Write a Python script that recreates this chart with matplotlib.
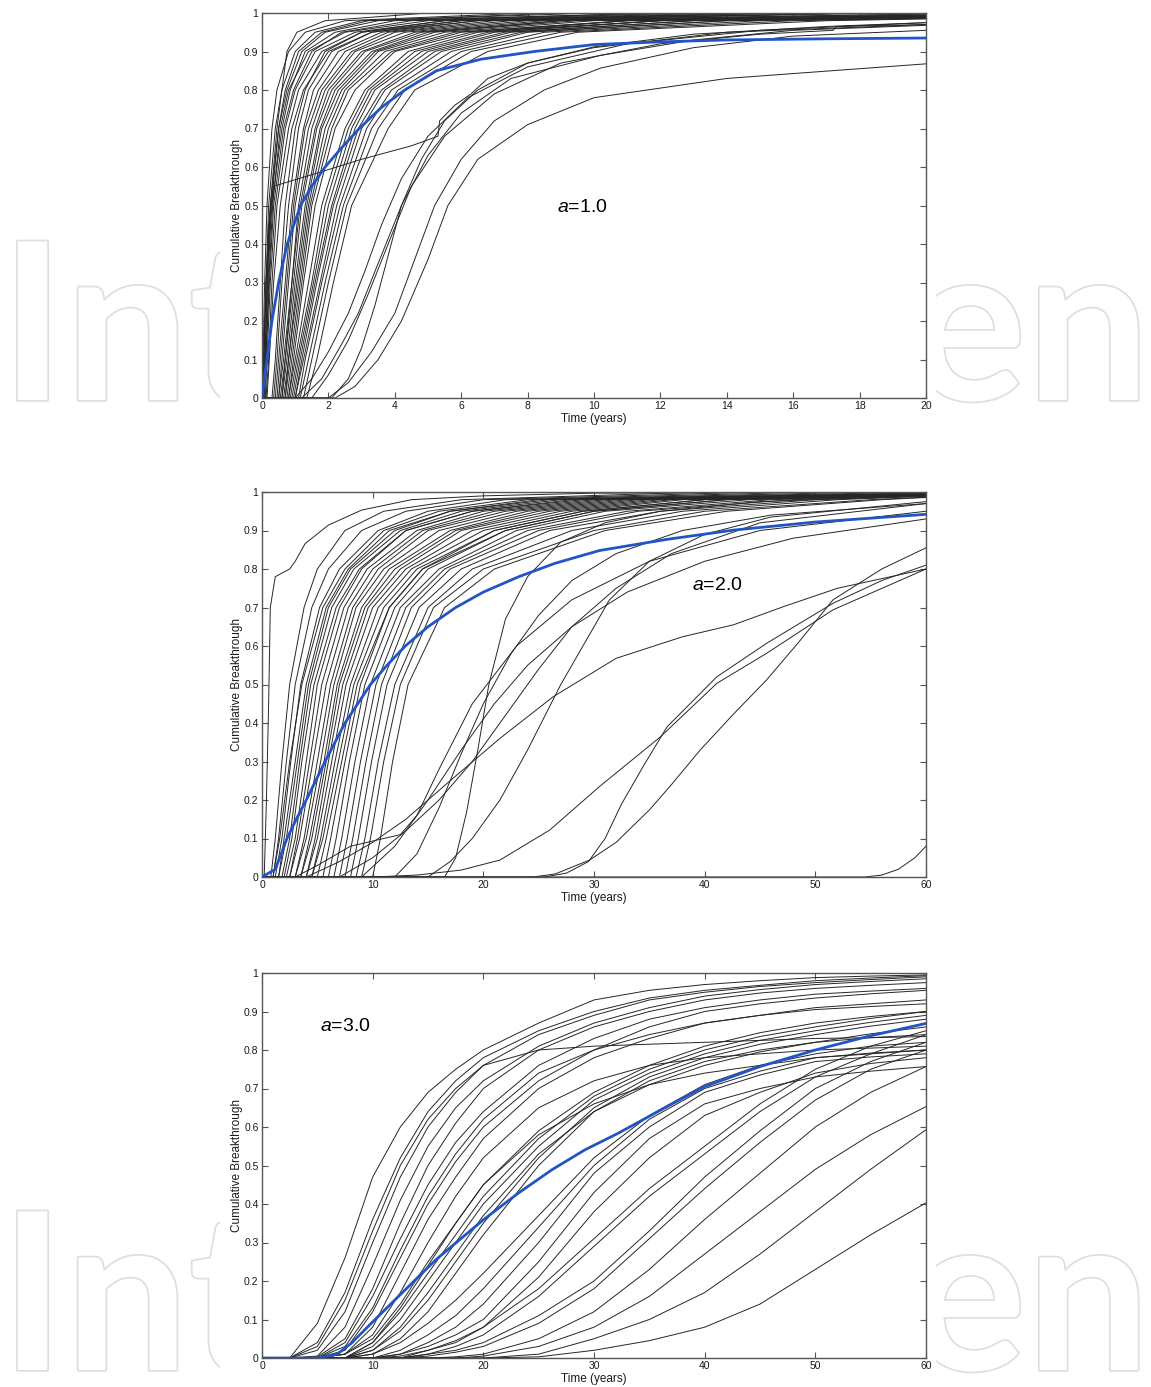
import matplotlib
matplotlib.use("Agg")
import matplotlib.pyplot as plt
import matplotlib.patheffects as pe
from matplotlib.patches import Rectangle

plt.rcParams['font.family'] = ['Liberation Sans', 'DejaVu Sans']
plt.rcParams['mathtext.fontset'] = 'custom'
plt.rcParams['mathtext.it'] = 'Liberation Sans:italic'
plt.rcParams['mathtext.rm'] = 'Liberation Sans'

# breakthrough levels used for the "time to reach level" runs
LEVELS = [0, 0.1, 0.3, 0.5, 0.7, 0.8, 0.9, 0.95, 0.98, 1.0]

# ---- a = 1.0 (years to reach each level) ----
p1_runs = [
    [0.0, 0.05, 0.12, 0.25, 0.45, 0.6, 0.75, 1.05, 1.9, 5.0],
    [0.0, 0.03, 0.08, 0.15, 0.3, 0.45, 0.8, 1.3, 2.5, 8],
    [0.02, 0.06, 0.12, 0.2, 0.4, 0.6, 1.0, 1.6, 3.0, 10],
    [0.05, 0.1, 0.16, 0.25, 0.5, 0.75, 1.2, 1.9, 3.5, 12],
    [0.0, 0.05, 0.12, 0.3, 0.6, 0.85, 1.3, 2.2, 4.0, 12],
    [0.08, 0.12, 0.2, 0.32, 0.55, 0.8, 1.4, 2.5, 5.0, 14],
    [0.1, 0.15, 0.25, 0.4, 0.7, 1.0, 1.6, 2.8, 5.5, 15],
    [0.05, 0.12, 0.22, 0.35, 0.65, 0.95, 1.5, 2.4, 4.5, 13],
    [0.12, 0.2, 0.3, 0.45, 0.8, 1.1, 1.8, 3.0, 6.0, 16],
    [0.15, 0.22, 0.35, 0.55, 0.9, 1.25, 2.0, 3.3, 6.5, 18],
    [0.0, 0.08, 0.18, 0.28, 0.5, 0.7, 1.1, 1.8, 3.2, 9],
    [0.3, 0.4, 0.55, 0.7, 1.0, 1.3, 1.9, 3.0, 5.5, 16],
    [0.35, 0.45, 0.6, 0.8, 1.1, 1.4, 2.1, 3.3, 6.0, 18],
    [0.4, 0.5, 0.7, 0.9, 1.25, 1.55, 2.3, 3.6, 6.5, 19],
    [0.45, 0.55, 0.75, 0.95, 1.3, 1.7, 2.5, 3.8, 7.0, 22],
    [0.5, 0.6, 0.8, 1.0, 1.4, 1.8, 2.7, 4.0, 7.5, 22],
    [0.5, 0.65, 0.9, 1.1, 1.5, 1.9, 2.8, 4.3, 8.0, 25],
    [0.55, 0.7, 0.9, 1.15, 1.6, 2.0, 3.0, 4.6, 8.5, 25],
    [0.6, 0.7, 0.95, 1.2, 1.65, 2.1, 3.1, 4.8, 9.0, 25],
    [0.6, 0.75, 1.0, 1.3, 1.75, 2.2, 3.3, 5.0, 9.5, 28],
    [0.65, 0.8, 1.05, 1.35, 1.8, 2.3, 3.4, 5.2, 9.0, 25],
    [0.7, 0.8, 1.1, 1.4, 1.9, 2.4, 3.5, 5.5, 10, 28],
    [0.7, 0.85, 1.15, 1.45, 2.0, 2.5, 3.7, 5.8, 11, 30],
    [0.75, 0.9, 1.2, 1.5, 2.1, 2.6, 3.9, 6.0, 11, 30],
    [0.8, 0.95, 1.25, 1.6, 2.2, 2.8, 4.0, 6.3, 12, 30],
    [0.8, 1.0, 1.4, 1.8, 2.5, 3.1, 4.4, 6.5, 11, 30],
    [0.85, 1.05, 1.5, 1.9, 2.6, 3.2, 4.6, 6.8, 12, 30],
    [0.9, 1.1, 1.55, 2.0, 2.7, 3.3, 4.8, 7.0, 12, 30],
    [0.95, 1.15, 1.6, 2.1, 2.8, 3.4, 5.0, 7.3, 13, 30],
    [1.0, 1.2, 1.65, 2.15, 2.9, 3.6, 5.2, 7.5, 13, 30],
    [1.0, 1.25, 1.75, 2.25, 3.0, 3.7, 5.4, 7.8, 14, 30],
    [1.1, 1.3, 1.8, 2.35, 3.15, 3.9, 5.7, 8.0, 14, 30],
    [1.15, 1.4, 1.9, 2.45, 3.3, 4.1, 6.0, 8.5, 15, 30],
    [1.25, 1.5, 2.0, 2.55, 3.5, 4.3, 6.3, 9.0, 16, 30],
    [1.35, 1.65, 2.15, 2.7, 3.8, 4.6, 6.8, 9.5, 17, 30],
]
# slow / irregular runs, read as (time, breakthrough) pairs
p1_slow_t = [
    [0, 2.2, 2.8, 3.5, 4.2, 5.0, 5.6, 6.5, 8.0, 10, 14, 20],
    [0, 2.0, 2.6, 3.3, 4.0, 4.6, 5.2, 6.0, 7.0, 8.5, 10.2, 13, 16, 20],
    [0, 1.2, 1.8, 2.4, 2.9, 3.5, 4.2, 5.0, 6.0, 7.5, 10.2, 13, 16, 20],
    [0, 2.1, 2.6, 3.0, 3.4, 3.8, 4.2, 4.8, 5.5, 6.5, 8.0, 10, 13, 17, 20],
    [0, 1.5, 2.0, 2.6, 3.2, 3.8, 4.5, 5.5, 7.0, 9.0, 12, 15, 17.2, 17.3, 20],
    [0, 1.0, 1.5, 2.0, 2.6, 3.1, 3.6, 4.2, 5.0, 6.2, 8.0, 11, 15, 20],
    [0, 0.05, 0.12, 0.2, 0.35, 1.5, 3.0, 4.5, 5.3, 5.35, 5.8, 6.3, 6.8, 8.0, 10, 14, 20],
]
p1_slow_y = [
    [0, 0, 0.03, 0.1, 0.2, 0.36, 0.5, 0.62, 0.71, 0.78, 0.83, 0.868],
    [0, 0, 0.04, 0.12, 0.22, 0.36, 0.5, 0.62, 0.72, 0.8, 0.857, 0.91, 0.94, 0.955],
    [0, 0, 0.05, 0.14, 0.22, 0.35, 0.5, 0.63, 0.74, 0.83, 0.89, 0.93, 0.955, 0.968],
    [0, 0, 0.05, 0.13, 0.24, 0.37, 0.5, 0.62, 0.72, 0.8, 0.87, 0.912, 0.945, 0.965, 0.975],
    [0, 0, 0.06, 0.15, 0.27, 0.4, 0.55, 0.68, 0.79, 0.87, 0.92, 0.945, 0.955, 0.965, 0.97],
    [0, 0, 0.05, 0.12, 0.22, 0.33, 0.45, 0.57, 0.68, 0.78, 0.86, 0.92, 0.955, 0.975],
    [0, 0, 0.2, 0.45, 0.55, 0.58, 0.62, 0.655, 0.68, 0.72, 0.76, 0.79, 0.83, 0.87, 0.91, 0.95, 0.97],
]
p1_mean_t = [0, 0.07, 0.15, 0.3, 0.5, 0.76, 1.16, 1.5, 1.9, 2.4, 2.93, 3.6, 4.3, 5.25,
             6.6, 8.2, 10, 12, 14, 17, 20]
p1_mean_y = [0, 0.05, 0.1, 0.2, 0.3, 0.4, 0.5, 0.55, 0.6, 0.65, 0.7, 0.755, 0.8, 0.85,
             0.88, 0.9, 0.918, 0.925, 0.93, 0.933, 0.935]

# ---- a = 2.0 ----
p2_runs = [
    [0.8, 1.2, 1.8, 2.5, 3.8, 5.0, 7.5, 11, 18, 40],
    [1.0, 1.5, 2.2, 3.0, 4.5, 6.0, 9.0, 13, 20, 45],
    [1.2, 1.8, 2.6, 3.5, 5.2, 7.0, 10.5, 15, 22, 50],
    [1.0, 1.6, 2.5, 3.6, 5.5, 7.5, 11, 16, 24, 55],
    [1.5, 2.0, 3.0, 4.0, 5.8, 7.8, 11.5, 17, 25, 60],
    [1.5, 2.2, 3.2, 4.2, 6.0, 8.0, 12, 17, 26, 65],
    [1.8, 2.5, 3.4, 4.4, 6.3, 8.3, 12.5, 18, 27, 65],
    [2.0, 2.7, 3.6, 4.7, 6.7, 8.8, 13, 19, 28, 70],
    [2.2, 3.0, 4.0, 5.0, 7.0, 9.0, 13, 19, 29, 70],
    [2.5, 3.2, 4.3, 5.4, 7.4, 9.5, 14, 20, 30, 70],
    [2.5, 3.4, 4.6, 5.8, 7.8, 10, 14.5, 21, 31, 70],
    [3.0, 3.8, 5.0, 6.2, 8.2, 10.5, 15, 22, 32, 70],
    [3.0, 4.0, 5.3, 6.5, 8.5, 11, 16, 23, 33, 70],
    [3.5, 4.3, 5.6, 6.8, 9.0, 11.5, 17, 24, 34, 70],
    [3.5, 4.5, 5.8, 7.0, 9.3, 12, 17.5, 25, 35, 70],
    [4.0, 4.8, 6.0, 7.3, 9.6, 12.5, 18, 26, 36, 70],
    [4.0, 5.0, 6.3, 7.6, 10, 13, 19, 27, 37, 70],
    [4.5, 5.3, 6.6, 8.0, 10.5, 13.5, 20, 28, 38, 70],
    [4.5, 5.5, 6.9, 8.3, 11, 14, 21, 29, 40, 70],
    [5.0, 5.8, 7.2, 8.6, 11.5, 14.5, 22, 30, 42, 70],
    [5.5, 6.2, 7.5, 8.9, 11.5, 14.5, 21, 29, 40, 70],
    [6.0, 6.7, 7.9, 9.3, 12, 15, 22, 30, 42, 70],
    [6.5, 7.2, 8.4, 9.8, 12.5, 16, 23, 31, 44, 70],
    [7.0, 7.7, 8.9, 10.3, 13, 16.5, 24, 33, 46, 70],
    [7.5, 8.2, 9.4, 10.8, 13.5, 17, 25, 34, 48, 70],
    [8.0, 8.7, 9.9, 11.3, 14.2, 18, 26, 36, 50, 70],
    [8.5, 9.3, 10.5, 12, 15, 19, 28, 38, 52, 70],
    [9.0, 9.8, 11.0, 12.5, 15.5, 20, 30, 40, 55, 70],
    [10, 10.7, 11.8, 13.2, 16.5, 21, 31, 42, 56, 70],
]
p2_slow_t = [
    [0, 0.2, 0.4, 0.6, 0.75, 1.2, 2.5, 3.0, 3.9, 6.0, 9.0, 13.5, 20, 30, 60],
    [0, 4, 7, 10, 13, 17, 21.5, 26.3, 32, 38, 42.6, 47.1, 52, 60],
    [0, 10, 14, 18, 21.5, 26, 30.5, 36, 41.1, 45.6, 51.6, 60],
    [0, 25.5, 27.5, 29.5, 31, 32.5, 34.5, 36.6, 41.1, 45.6, 51.6, 56, 60],
    [0, 24.5, 26.5, 29.6, 32, 35, 37, 39.6, 42.5, 45.6, 48.5, 51.6, 56, 60],
    [0, 54.5, 56, 57.5, 59, 60],
    [0, 16.5, 17.5, 18.5, 19.5, 20.5, 22, 24, 27, 31, 36, 45, 60],
    [0, 12, 14, 16, 18, 20, 22.5, 25, 28, 32, 38, 46, 60],
    [0, 7, 10, 13, 16, 19, 22, 25, 28, 32, 37, 45, 60],
    [0, 15, 17, 19, 21.5, 24, 27, 31.4, 35, 40, 46, 60],
    [0, 9, 12, 15, 18, 21, 24, 28, 33, 40, 48, 60],
    [0, 3, 5, 8, 11, 12.5, 14, 16, 19, 23, 28, 35, 45, 60],
]
p2_slow_y = [
    [0, 0, 0.2, 0.45, 0.7, 0.78, 0.8, 0.82, 0.866, 0.914, 0.953, 0.98, 0.99, 0.997, 1.0],
    [0, 0, 0.04, 0.09, 0.15, 0.25, 0.36, 0.468, 0.568, 0.624, 0.655, 0.702, 0.75, 0.8],
    [0, 0, 0.005, 0.018, 0.044, 0.122, 0.235, 0.364, 0.503, 0.581, 0.694, 0.80],
    [0, 0, 0.01, 0.04, 0.1, 0.19, 0.29, 0.39, 0.52, 0.607, 0.711, 0.77, 0.81],
    [0, 0, 0.008, 0.044, 0.09, 0.174, 0.24, 0.33, 0.42, 0.512, 0.61, 0.72, 0.8, 0.855],
    [0, 0, 0.005, 0.02, 0.05, 0.08],
    [0, 0, 0.05, 0.17, 0.33, 0.5, 0.67, 0.78, 0.87, 0.92, 0.95, 0.975, 0.99],
    [0, 0, 0.06, 0.18, 0.32, 0.45, 0.58, 0.68, 0.77, 0.84, 0.9, 0.94, 0.97],
    [0, 0, 0.05, 0.12, 0.2, 0.3, 0.42, 0.54, 0.65, 0.75, 0.84, 0.92, 0.97],
    [0, 0, 0.04, 0.1, 0.2, 0.33, 0.5, 0.72, 0.82, 0.89, 0.935, 0.975],
    [0, 0, 0.08, 0.2, 0.33, 0.45, 0.55, 0.65, 0.74, 0.82, 0.88, 0.93],
    [0, 0, 0.03, 0.08, 0.1, 0.11, 0.16, 0.28, 0.45, 0.6, 0.72, 0.82, 0.9, 0.95],
]
p2_mean_t = [0, 1.2, 2.26, 3.1, 4.0, 5.7, 7.5, 9.8, 11.3, 12.95, 15, 17.5, 20, 23.2,
             26.5, 30.5, 36.6, 42.6, 50, 60]
p2_mean_y = [0, 0.02, 0.1, 0.15, 0.2, 0.3, 0.4, 0.5, 0.55, 0.6, 0.65, 0.7, 0.74, 0.78,
             0.815, 0.848, 0.877, 0.901, 0.922, 0.942]

# ---- a = 3.0 (breakthrough at fixed times) ----
T3 = [0, 2.5, 5, 7.5, 10, 12.5, 15, 17.5, 20, 25, 30, 35, 40, 45, 50, 55, 60]
p3_runs = [
    [0, 0, 0.09, 0.26, 0.47, 0.60, 0.69, 0.75, 0.80, 0.87, 0.93, 0.955, 0.97, 0.98, 0.988, 0.992, 0.995],
    [0, 0, 0.04, 0.17, 0.36, 0.52, 0.64, 0.72, 0.78, 0.85, 0.90, 0.935, 0.955, 0.968, 0.98, 0.987, 0.993],
    [0, 0, 0.02, 0.12, 0.30, 0.47, 0.60, 0.69, 0.76, 0.84, 0.89, 0.93, 0.95, 0.965, 0.975, 0.983, 0.99],
    [0, 0, 0.005, 0.08, 0.24, 0.41, 0.55, 0.65, 0.72, 0.81, 0.87, 0.91, 0.94, 0.957, 0.97, 0.978, 0.985],
    [0, 0, 0.003, 0.05, 0.18, 0.35, 0.50, 0.61, 0.70, 0.80, 0.86, 0.90, 0.93, 0.948, 0.96, 0.968, 0.975],
    [0, 0, 0.03, 0.15, 0.33, 0.50, 0.62, 0.70, 0.76, 0.80, 0.81, 0.815, 0.82, 0.825, 0.83, 0.832, 0.835],
    [0, 0, 0.0, 0.04, 0.16, 0.31, 0.45, 0.56, 0.64, 0.76, 0.83, 0.88, 0.91, 0.93, 0.945, 0.953, 0.96],
    [0, 0, 0.0, 0.02, 0.12, 0.26, 0.40, 0.51, 0.60, 0.72, 0.80, 0.86, 0.90, 0.92, 0.935, 0.946, 0.955],
    [0, 0, 0.0, 0.03, 0.13, 0.28, 0.42, 0.53, 0.62, 0.74, 0.80, 0.84, 0.87, 0.89, 0.905, 0.913, 0.92],
    [0, 0, 0.0, 0.01, 0.08, 0.22, 0.36, 0.47, 0.57, 0.70, 0.78, 0.83, 0.87, 0.89, 0.91, 0.92, 0.93],
    [0, 0, 0, 0.01, 0.05, 0.14, 0.25, 0.35, 0.45, 0.59, 0.69, 0.76, 0.81, 0.845, 0.87, 0.887, 0.90],
    [0, 0, 0, 0.0, 0.04, 0.12, 0.22, 0.32, 0.42, 0.57, 0.68, 0.75, 0.80, 0.835, 0.86, 0.882, 0.90],
    [0, 0, 0, 0.0, 0.03, 0.10, 0.20, 0.30, 0.40, 0.55, 0.67, 0.74, 0.79, 0.825, 0.85, 0.872, 0.89],
    [0, 0, 0, 0.0, 0.02, 0.07, 0.15, 0.25, 0.35, 0.52, 0.65, 0.73, 0.78, 0.815, 0.84, 0.862, 0.88],
    [0, 0, 0, 0.0, 0.02, 0.08, 0.17, 0.27, 0.37, 0.53, 0.64, 0.71, 0.76, 0.795, 0.82, 0.842, 0.86],
    [0, 0, 0, 0.0, 0.01, 0.05, 0.12, 0.22, 0.32, 0.50, 0.64, 0.72, 0.77, 0.80, 0.82, 0.832, 0.84],
    [0, 0, 0, 0.01, 0.06, 0.17, 0.30, 0.42, 0.52, 0.65, 0.72, 0.76, 0.78, 0.79, 0.80, 0.805, 0.81],
    [0, 0, 0, 0.0, 0.04, 0.13, 0.24, 0.35, 0.45, 0.58, 0.66, 0.71, 0.74, 0.76, 0.78, 0.79, 0.80],
    [0, 0, 0, 0, 0.01, 0.04, 0.09, 0.15, 0.22, 0.37, 0.52, 0.63, 0.71, 0.76, 0.79, 0.81, 0.82],
    [0, 0, 0, 0, 0.0, 0.02, 0.06, 0.11, 0.18, 0.34, 0.50, 0.62, 0.70, 0.745, 0.78, 0.792, 0.80],
    [0, 0, 0, 0, 0.0, 0.01, 0.04, 0.08, 0.14, 0.30, 0.48, 0.60, 0.69, 0.735, 0.77, 0.782, 0.79],
    [0, 0, 0, 0, 0, 0.01, 0.03, 0.06, 0.10, 0.25, 0.43, 0.57, 0.66, 0.70, 0.73, 0.745, 0.757],
    [0, 0, 0, 0, 0, 0, 0.02, 0.04, 0.08, 0.21, 0.38, 0.52, 0.63, 0.69, 0.74, 0.765, 0.78],
    [0, 0, 0, 0, 0, 0, 0, 0, 0, 0.003, 0.02, 0.045, 0.08, 0.14, 0.23, 0.32, 0.403],
    [0, 0, 0, 0, 0, 0, 0, 0, 0, 0.01, 0.05, 0.10, 0.17, 0.27, 0.38, 0.49, 0.593],
    [0, 0, 0, 0, 0, 0, 0, 0, 0.005, 0.03, 0.08, 0.16, 0.27, 0.38, 0.49, 0.58, 0.653],
    [0, 0, 0, 0, 0, 0, 0, 0.003, 0.01, 0.05, 0.12, 0.23, 0.36, 0.48, 0.60, 0.69, 0.757],
    [0, 0, 0, 0, 0, 0, 0.005, 0.015, 0.03, 0.09, 0.18, 0.31, 0.44, 0.56, 0.67, 0.75, 0.80],
    [0, 0, 0, 0, 0, 0, 0.01, 0.02, 0.04, 0.11, 0.20, 0.33, 0.47, 0.59, 0.70, 0.77, 0.82],
    [0, 0, 0, 0, 0, 0, 0.01, 0.03, 0.06, 0.16, 0.29, 0.42, 0.53, 0.64, 0.73, 0.79, 0.84],
    [0, 0, 0, 0, 0, 0.005, 0.02, 0.045, 0.08, 0.18, 0.31, 0.44, 0.55, 0.66, 0.75, 0.81, 0.85],
]
p3_mean_t = [0, 5, 6.8, 8.1, 9.9, 12.65, 15.7, 20, 23.2, 26.2, 29.2, 32.2, 36.6, 40, 45, 50, 55, 60]
p3_mean_y = [0, 0, 0.01, 0.039, 0.091, 0.169, 0.255, 0.359, 0.429, 0.489, 0.541, 0.584, 0.653,
             0.705, 0.757, 0.80, 0.837, 0.869]

y_ticks = [0, 0.1, 0.2, 0.3, 0.4, 0.5, 0.6, 0.7, 0.8, 0.9, 1]
y_ticklabels = ['0', '0.1', '0.2', '0.3', '0.4', '0.5', '0.6', '0.7', '0.8', '0.9', '1']

W, H = 1151, 1387
fig = plt.figure(figsize=(W / 100, H / 100), dpi=100)

# watermark (outlined letters, hidden behind the chart column)
wm_fx = [pe.withStroke(linewidth=2.5, foreground='#dedede')]
for base in (400, 1370):
    fig.text(0 / W, 1 - base / H, 'Int', fontsize=158, family='Lato', fontweight='bold',
             color='white', ha='left', va='baseline', path_effects=wm_fx, zorder=-3)
    fig.text(1150 / W, 1 - base / H, 'en', fontsize=158, family='Lato', fontweight='bold',
             color='white', ha='right', va='baseline', path_effects=wm_fx, zorder=-3)
fig.patches.append(Rectangle((220 / W, 0), (936 - 220) / W, 1, transform=fig.transFigure,
                             facecolor='white', edgecolor='none', zorder=-2))

line_kw = dict(color='#262626', lw=0.7)
mean_kw = dict(color='#2255c4', lw=2.0, zorder=5)
frame = '#555555'


def setup(ax, xmax, xticks, label):
    ax.set_xlim(0, xmax)
    ax.set_ylim(0, 1)
    ax.set_xticks(xticks)
    ax.set_yticks(y_ticks)
    ax.set_yticklabels(y_ticklabels)
    ax.tick_params(direction='in', top=True, right=True, length=4, width=0.8,
                   color=frame, labelsize=7.5, pad=2.5, labelcolor='#1a1a1a')
    for s in ax.spines.values():
        s.set_color(frame)
        s.set_linewidth(1.0)
    ax.set_xlabel('Time (years)', fontsize=8.5, labelpad=1, color='#1a1a1a')
    ax.set_ylabel('Cumulative Breakthrough', fontsize=8.5, labelpad=1, color='#1a1a1a')
    ax.text(label[0], label[1], label[2], fontsize=14, ha='left', va='center')


def level_runs(ax, runs, xmax):
    for r in runs:
        t = [0] + list(r) + [max(xmax, r[-1])]
        y = [0] + LEVELS + [1.0]
        ax.plot(t, y, **line_kw)


left, width, height = 262 / W, 664 / W, 385 / H

ax1 = fig.add_axes([left, 1 - 398 / H, width, height])
level_runs(ax1, p1_runs, 20)
for t, y in zip(p1_slow_t, p1_slow_y):
    ax1.plot(t, y, **line_kw)
ax1.plot(p1_mean_t, p1_mean_y, **mean_kw)
setup(ax1, 20, range(0, 21, 2), (8.9, 0.496, r'$a$=1.0'))

ax2 = fig.add_axes([left, 1 - 877 / H, width, height])
level_runs(ax2, p2_runs, 60)
for t, y in zip(p2_slow_t, p2_slow_y):
    ax2.plot(t, y, **line_kw)
ax2.plot(p2_mean_t, p2_mean_y, **mean_kw)
setup(ax2, 60, range(0, 61, 10), (38.9, 0.756, r'$a$=2.0'))

ax3 = fig.add_axes([left, 1 - 1358 / H, width, height])
for r in p3_runs:
    ax3.plot(T3, r, **line_kw)
ax3.plot(p3_mean_t, p3_mean_y, **mean_kw)
setup(ax3, 60, range(0, 61, 10), (5.2, 0.86, r'$a$=3.0'))

fig.savefig('out.png', dpi=100)
